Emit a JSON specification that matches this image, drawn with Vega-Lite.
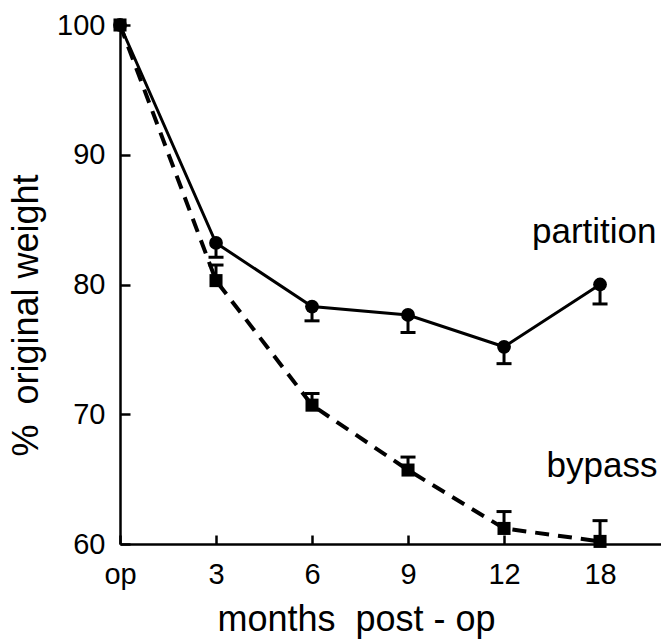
{
  "$schema": "https://vega.github.io/schema/vega-lite/v6.json",
  "width": 541,
  "height": 519,
  "autosize": {"type": "none"},
  "padding": {"left": 120, "top": 25, "right": 0, "bottom": 96},
  "background": "white",
  "config": {"view": {"stroke": null}, "font": "Liberation Sans"},
  "data": {
    "values": [
      {"series": "partition", "month": "op", "idx": 0, "value": 100},
      {"series": "partition", "month": "3", "idx": 1, "value": 83.2, "err": 82.1},
      {"series": "partition", "month": "6", "idx": 2, "value": 78.3, "err": 77.2},
      {"series": "partition", "month": "9", "idx": 3, "value": 77.65, "err": 76.3},
      {"series": "partition", "month": "12", "idx": 4, "value": 75.2, "err": 73.9},
      {"series": "partition", "month": "18", "idx": 5, "value": 80.0, "err": 78.5},
      {"series": "bypass", "month": "op", "idx": 0, "value": 100},
      {"series": "bypass", "month": "3", "idx": 1, "value": 80.3, "err": 81.5},
      {"series": "bypass", "month": "6", "idx": 2, "value": 70.7, "err": 71.6},
      {"series": "bypass", "month": "9", "idx": 3, "value": 65.7, "err": 66.7},
      {"series": "bypass", "month": "12", "idx": 4, "value": 61.2, "err": 62.5},
      {"series": "bypass", "month": "18", "idx": 5, "value": 60.2, "err": 61.8}
    ]
  },
  "encoding": {
    "x": {
      "field": "idx",
      "type": "quantitative",
      "scale": {"domain": [0, 5.635], "nice": false, "zero": false},
      "axis": {
        "values": [0, 1, 2, 3, 4, 5],
        "labelExpr": "['op','3','6','9','12','18'][datum.value]",
        "grid": false,
        "domainColor": "black",
        "domainWidth": 2.5,
        "tickColor": "black",
        "tickWidth": 2.5,
        "tickSize": -9,
        "labelFontSize": 29,
        "labelColor": "black",
        "labelPadding": 25,
        "labelFlush": false,
        "labelOverlap": false,
        "title": "months\u00a0\u00a0post\u00a0-\u00a0op",
        "titleFontSize": 36,
        "titleFontWeight": "normal",
        "titleColor": "black",
        "titleX": 236,
        "titleY": 86,
        "titleAlign": "center",
        "titleBaseline": "alphabetic"
      }
    },
    "y": {
      "field": "value",
      "type": "quantitative",
      "scale": {"domain": [60, 100], "nice": false, "zero": false},
      "axis": {
        "values": [60, 70, 80, 90, 100],
        "grid": false,
        "domainColor": "black",
        "domainWidth": 2.5,
        "tickColor": "black",
        "tickWidth": 2.5,
        "tickSize": -10,
        "labelFontSize": 29,
        "labelColor": "black",
        "labelPadding": 25,
        "labelFlush": false,
        "labelOverlap": false,
        "title": "%\u00a0\u00a0original weight",
        "titleFontSize": 36,
        "titleFontWeight": "normal",
        "titleColor": "black",
        "titleX": -83,
        "titleY": 290,
        "titleAngle": -90,
        "titleAlign": "center",
        "titleBaseline": "alphabetic"
      }
    }
  },
  "layer": [
    {
      "transform": [{"filter": "datum.series == 'partition'"}],
      "mark": {"type": "line", "color": "black", "strokeWidth": 3},
      "encoding": {"order": {"field": "idx"}}
    },
    {
      "transform": [{"filter": "datum.series == 'bypass'"}],
      "mark": {"type": "line", "color": "black", "strokeWidth": 4, "strokeDash": [14, 9]},
      "encoding": {"order": {"field": "idx"}}
    },
    {
      "transform": [{"filter": "isValid(datum.err)"}],
      "mark": {"type": "rule", "color": "black", "strokeWidth": 3},
      "encoding": {"y2": {"field": "err"}}
    },
    {
      "transform": [{"filter": "isValid(datum.err)"}],
      "mark": {"type": "tick", "color": "black", "thickness": 3, "size": 15, "orient": "horizontal", "opacity": 1},
      "encoding": {"y": {"field": "err", "type": "quantitative"}}
    },
    {
      "mark": {"type": "point", "filled": true, "color": "black", "opacity": 1},
      "encoding": {
        "shape": {"field": "series", "type": "nominal", "scale": {"domain": ["partition", "bypass"], "range": ["circle", "square"]}, "legend": null},
        "size": {"field": "series", "type": "nominal", "scale": {"domain": ["partition", "bypass"], "range": [190, 170]}, "legend": null}
      }
    },
    {
      "data": {
        "values": [
          {"label": "partition", "idx": 4.94, "value": 83.2},
          {"label": "bypass", "idx": 5.02, "value": 65.15}
        ]
      },
      "mark": {"type": "text", "color": "black", "fontSize": 35, "align": "center", "baseline": "alphabetic"},
      "encoding": {"text": {"field": "label"}}
    }
  ]
}
